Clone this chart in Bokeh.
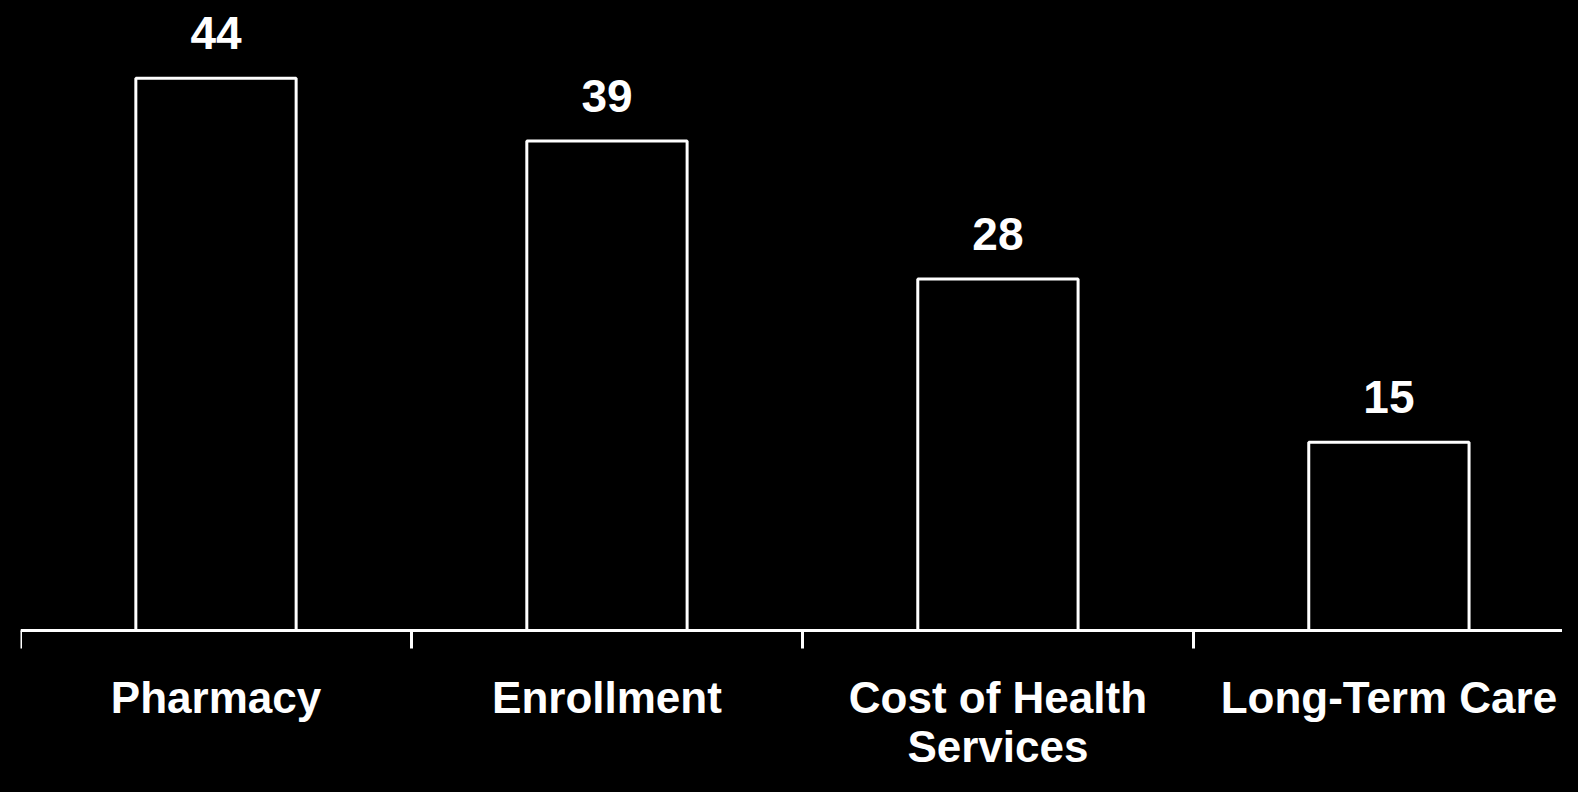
from bokeh.plotting import figure
from bokeh.models import Range1d, FixedTicker, ColumnDataSource
from bokeh.core.properties import value
from bokeh.embed import file_html
from bokeh.resources import INLINE

categories = ["Pharmacy", "Enrollment", "Cost of Health\nServices", "Long-Term Care"]
values = [44, 39, 28, 15]

n = len(categories)
xs = [i + 0.5 for i in range(n)]
src = ColumnDataSource(dict(x=xs, top=values, lbl=[str(v) for v in values],
                            cat=categories, zero=[0] * n))

W, H = 1562, 776
p = figure(width=W, height=H, output_backend="svg", toolbar_location=None,
           x_range=Range1d(0, 3.944), y_range=Range1d(-11.63, 50.2),
           min_border_left=20, min_border_right=0, min_border_top=0,
           min_border_bottom=0)
p.background_fill_color = "black"
p.border_fill_color = "black"
p.outline_line_color = None
p.grid.visible = False
p.yaxis.visible = False

p.vbar(x="x", top="top", bottom=0, width=0.41, source=src,
       fill_color="black", line_color="white", line_width=3)
p.text(x="x", y="top", text="lbl", source=src, text_align="center",
       text_baseline="alphabetic", y_offset=-45, text_color="white",
       text_font=value("Liberation Sans"), text_font_style="bold",
       text_font_size="46px")
p.text(x="x", y="zero", text="cat", source=src, text_align="center",
       text_baseline="top", y_offset=42, text_color="white",
       text_font=value("Liberation Sans"), text_font_style="bold",
       text_font_size="44px", text_line_height=1.0)

ax = p.xaxis[0]
ax.fixed_location = 0
ax.ticker = FixedTicker(ticks=[], minor_ticks=list(range(n)))
ax.axis_line_color = "white"
ax.axis_line_width = 3
ax.major_tick_out = 0
ax.major_tick_in = 0
ax.minor_tick_out = 18
ax.minor_tick_in = 0
ax.minor_tick_line_color = "white"
ax.minor_tick_line_width = 3
ax.major_label_text_font_size = "0px"

html = file_html(p, INLINE)
html = html.replace("</head>", "<style>html,body{background-color:#000;}</style></head>", 1)
open("out.html", "w").write(html)
